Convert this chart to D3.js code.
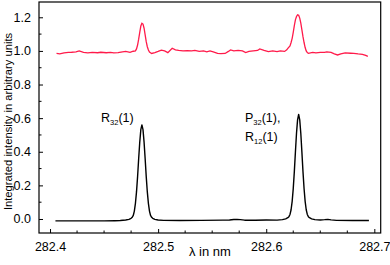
<!DOCTYPE html>
<html><head><meta charset="utf-8">
<script src="https://cdn.jsdelivr.net/npm/d3@7"></script>
<style>body{margin:0;background:#fff}svg{display:block}text{font-family:"Liberation Sans",Arial,sans-serif}</style>
</head><body><div id="c"></div>
<script>
// ---- data ----
const blackX = [282.405,282.42,282.44,282.45,282.46,282.465,282.470,282.473,282.475,282.476,282.477,282.478,282.479,282.480,282.481,282.482,282.483,282.484,282.485,282.486,282.487,282.488,282.489,282.490,282.491,282.492,282.493,282.494,282.495,282.497,282.500,282.505,282.52,282.54,282.56,282.566,282.570,282.573,282.576,282.580,282.59,282.60,282.61,282.615,282.618,282.620,282.621,282.622,282.623,282.624,282.625,282.626,282.627,282.628,282.629,282.630,282.631,282.632,282.633,282.634,282.635,282.636,282.637,282.638,282.639,282.640,282.642,282.645,282.650,282.654,282.657,282.660,282.665,282.68,282.695];
const blackY = [-0.011,-0.011,-0.011,-0.011,-0.010,-0.009,-0.006,-0.002,0.004,0.010,0.021,0.047,0.093,0.161,0.252,0.358,0.457,0.532,0.560,0.532,0.457,0.358,0.252,0.161,0.093,0.047,0.021,0.010,0.004,-0.002,-0.006,-0.008,-0.009,-0.008,-0.007,-0.006,-0.003,-0.002,-0.004,-0.007,-0.007,-0.006,-0.007,-0.004,0.001,0.008,0.014,0.027,0.055,0.105,0.181,0.282,0.398,0.509,0.590,0.622,0.590,0.509,0.398,0.282,0.181,0.105,0.055,0.027,0.014,0.008,0.001,-0.004,-0.006,-0.004,-0.002,-0.005,-0.008,-0.009,-0.009];
const redX = [282.406,282.409,282.413,282.417,282.420,282.424,282.427,282.431,282.435,282.439,282.444,282.447,282.452,282.456,282.459,282.463,282.467,282.470,282.474,282.477,282.479,282.480,282.481,282.482,282.483,282.484,282.485,282.486,282.487,282.488,282.489,282.490,282.491,282.492,282.494,282.497,282.500,282.503,282.506,282.509,282.513,282.516,282.519,282.523,282.527,282.531,282.534,282.538,282.542,282.545,282.548,282.551,282.555,282.558,282.562,282.565,282.567,282.570,282.574,282.578,282.581,282.584,282.588,282.592,282.594,282.598,282.602,282.606,282.610,282.613,282.617,282.619,282.620,282.622,282.623,282.624,282.625,282.626,282.627,282.628,282.629,282.630,282.631,282.632,282.633,282.634,282.635,282.636,282.637,282.638,282.639,282.643,282.646,282.650,282.654,282.656,282.660,282.663,282.666,282.669,282.673,282.678,282.681,282.685,282.689,282.692,282.694];
const redY = [0.985,0.982,0.988,0.991,0.992,0.994,1.000,0.991,0.988,0.991,0.989,0.992,0.989,0.991,0.988,0.990,0.994,0.997,0.991,0.998,1.000,1.012,1.035,1.070,1.110,1.148,1.165,1.160,1.135,1.095,1.055,1.025,1.005,0.993,0.985,0.990,0.997,1.005,1.000,0.990,1.016,1.006,1.003,1.000,1.002,1.000,1.003,0.997,1.000,0.994,1.000,0.994,0.985,0.984,0.985,0.997,1.006,1.000,1.003,1.000,0.990,0.997,1.000,1.003,1.012,1.003,0.996,1.000,0.996,1.000,0.997,1.006,1.015,1.030,1.050,1.075,1.110,1.150,1.185,1.205,1.215,1.212,1.195,1.165,1.125,1.085,1.050,1.020,1.000,0.990,0.986,0.991,0.988,0.991,0.991,0.994,0.991,0.982,0.976,0.982,0.988,0.986,0.985,0.982,0.980,0.973,0.967];
const xTicks = [282.4,282.5,282.6,282.7];
const yTicks = [0.0,0.2,0.4,0.6,0.8,1.0,1.2];
const xLabel = "λ in nm";
const yLabel = "Integrated intensity in arbitrary units";

// ---- layout ----
const W = 390, H = 265;
const L = 39, T = 2, R = 380.7, B = 233;
const svg = d3.select("#c").append("svg").attr("width", W).attr("height", H);
const x = d3.scaleLinear().domain([282.3898, 282.7059]).range([L, R]);
const y = d3.scaleLinear().domain([-0.0833, 1.291]).range([B, T]);

// axes (ticks inward)
const xAxis = d3.axisBottom(x).tickValues(xTicks).tickFormat(d3.format(".1f")).tickSizeInner(-4).tickSizeOuter(0).tickPadding(9);
const gx = svg.append("g").attr("transform", `translate(0,${B})`).call(xAxis);
const xMinor = d3.range(282.4, 282.7001, 0.025).filter(v => Math.abs((v*10) - Math.round(v*10)) > 1e-6);
gx.selectAll(".minor").data(xMinor).enter().append("line").attr("class","minor")
  .attr("x1", d => x(d)).attr("x2", d => x(d)).attr("y1", 0).attr("y2", -2.5).attr("stroke", "#000");
const yAxis = d3.axisLeft(y).tickValues(yTicks).tickFormat(d3.format(".1f")).tickSizeInner(-4).tickSizeOuter(0).tickPadding(8);
const gy = svg.append("g").attr("transform", `translate(${L},0)`).call(yAxis);
const yMinor = [0.1,0.3,0.5,0.7,0.9,1.1];
gy.selectAll(".minor").data(yMinor).enter().append("line").attr("class","minor")
  .attr("y1", d => y(d)).attr("y2", d => y(d)).attr("x1", 0).attr("x2", 2.5).attr("stroke", "#000");
svg.selectAll(".domain").remove();
svg.selectAll(".tick text").attr("font-size", 12.5).attr("fill", "#000").style("font-family", '"Liberation Sans",Arial,sans-serif');
svg.selectAll(".tick line").attr("stroke", "#000");

// frame
svg.append("rect").attr("x", L).attr("y", T).attr("width", R - L).attr("height", B - T)
  .attr("fill", "none").attr("stroke", "#000").attr("stroke-width", 1.2);

// lines
const line = d3.line().x(d => x(d[0])).y(d => y(d[1]));
svg.append("path").datum(redX.map((v, i) => [v, redY[i]])).attr("d", line)
  .attr("fill", "none").attr("stroke", "#ff1a4a").attr("stroke-width", 1.3);
svg.append("path").datum(blackX.map((v, i) => [v, blackY[i]])).attr("d", line)
  .attr("fill", "none").attr("stroke", "#000").attr("stroke-width", 1.4).attr("stroke-linejoin","round");

// annotations
function label(px, py, main, sub, tail) {
  const t = svg.append("text").attr("x", px).attr("y", py).attr("font-size", 12.5).attr("fill", "#000");
  t.append("tspan").text(main);
  t.append("tspan").attr("font-size", 7.5).attr("dy", 3).text(sub);
  t.append("tspan").attr("dy", -3).text(tail);
}
label(101, 122, "R", "32", "(1)");
label(245, 122, "P", "32", "(1),");
label(245, 141, "R", "12", "(1)");

// axis titles
svg.append("text").attr("x", (L + R) / 2).attr("y", 256).attr("text-anchor", "middle")
  .attr("font-size", 13).text(xLabel);
svg.append("text").attr("transform", `translate(12,${(T + B) / 2 + 4}) rotate(-90)`).attr("text-anchor", "middle")
  .attr("font-size", 11.2).text(yLabel);
</script></body></html>
